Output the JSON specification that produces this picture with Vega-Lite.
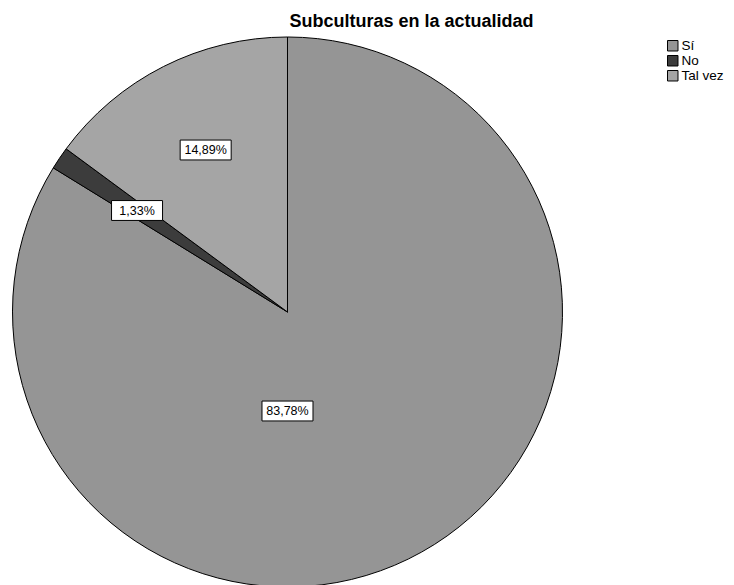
{
  "$schema": "https://vega.github.io/schema/vega-lite/v6.json",
  "width": 734,
  "height": 555,
  "autosize": {"type": "none"},
  "padding": {"left": 0, "top": 30, "right": 0, "bottom": 0},
  "background": "white",
  "config": {
    "view": {"stroke": null},
    "axis": {"disable": true}
  },
  "data": {
    "values": [
      {"respuesta": "Sí", "pct": 83.78},
      {"respuesta": "No", "pct": 1.33},
      {"respuesta": "Tal vez", "pct": 14.89}
    ]
  },
  "transform": [
    {"calculate": "indexof(['Sí','No','Tal vez'], datum.respuesta)", "as": "idx"}
  ],
  "layer": [
    {
      "mark": {"type": "arc", "outerRadius": 275, "stroke": "black", "strokeWidth": 1, "opacity": 1},
      "encoding": {
        "x": {"datum": 0, "type": "quantitative", "scale": {"domain": [-1.04545, 1.62364], "nice": false, "zero": false}, "axis": null},
        "y": {"datum": 0, "type": "quantitative", "scale": {"domain": [-0.99273, 1.02545], "nice": false, "zero": false}, "axis": null},
        "theta": {"field": "pct", "type": "quantitative", "stack": true},
        "order": {"field": "idx", "type": "quantitative", "sort": "ascending"},
        "color": {
          "field": "respuesta",
          "type": "nominal",
          "sort": ["Sí", "No", "Tal vez"],
          "scale": {"domain": ["Sí", "No", "Tal vez"], "range": ["#959595", "#3c3c3c", "#a5a5a5"]},
          "legend": {
            "title": null,
            "orient": "none",
            "legendX": 666,
            "legendY": 9,
            "symbolType": "square",
            "symbolSize": 110,
            "symbolStrokeColor": "black",
            "symbolStrokeWidth": 1,
            "symbolOpacity": 1,
            "labelFont": "Liberation Sans",
            "labelFontSize": 13.5,
            "labelColor": "black",
            "labelOffset": 2,
            "rowPadding": 0
          }
        }
      }
    },
    {
      "transform": [
        {"joinaggregate": [{"op": "sum", "field": "pct", "as": "total"}]},
        {"window": [{"op": "sum", "field": "pct", "as": "cum"}], "sort": [{"field": "idx", "order": "ascending"}], "frame": [null, 0]},
        {"calculate": "datum.pct / datum.total", "as": "frac"},
        {"calculate": "(datum.cum - datum.pct / 2) / datum.total * 2 * PI", "as": "mid"},
        {"calculate": "datum.frac > 0.5 ? PI : datum.mid", "as": "ang"},
        {"calculate": "datum.frac > 0.5 ? 0.36 : 0.66", "as": "rr"},
        {"calculate": "datum.rr * sin(datum.ang)", "as": "lx"},
        {"calculate": "datum.rr * cos(datum.ang)", "as": "ly"},
        {"calculate": "replace(format(datum.pct, '.2f'), '.', ',') + '%'", "as": "label"}
      ],
      "layer": [
        {
          "mark": {"type": "point", "shape": "M-1,-0.39L1,-0.39L1,0.39L-1,0.39Z", "filled": true, "fill": "white", "stroke": "black", "strokeWidth": 1, "opacity": 1, "size": 2601},
          "encoding": {
            "x": {"field": "lx", "type": "quantitative"},
            "y": {"field": "ly", "type": "quantitative"}
          }
        },
        {
          "mark": {"type": "text", "font": "Liberation Sans", "fontSize": 12.5, "color": "black", "align": "center", "baseline": "middle"},
          "encoding": {
            "x": {"field": "lx", "type": "quantitative"},
            "y": {"field": "ly", "type": "quantitative"},
            "text": {"field": "label"}
          }
        }
      ]
    },
    {
      "data": {"values": [{"titulo": "Subculturas en la actualidad"}]},
      "mark": {"type": "text", "font": "Liberation Sans", "fontSize": 18, "fontWeight": "bold", "color": "black", "align": "center", "baseline": "alphabetic"},
      "encoding": {
        "x": {"datum": 0.4509, "type": "quantitative"},
        "y": {"datum": 1.03636, "type": "quantitative"},
        "text": {"field": "titulo"}
      }
    }
  ]
}
